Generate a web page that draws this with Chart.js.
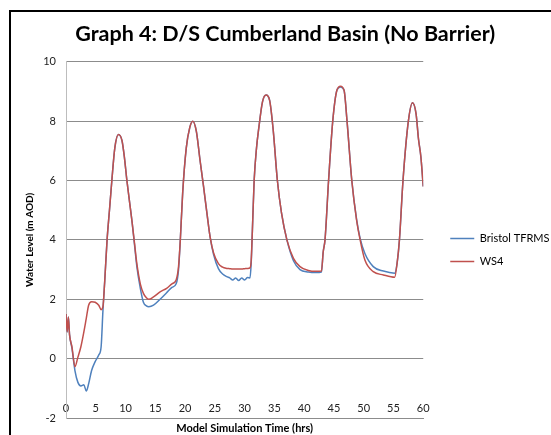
<!DOCTYPE html>
<html>
<head>
<meta charset="utf-8">
<script src="https://cdn.jsdelivr.net/npm/chart.js@4.4.1/dist/chart.umd.min.js"></script>
<style>
  html, body { margin: 0; padding: 0; background: #fff; }
  #wrap { width: 551px; height: 435px; }
</style>
</head>
<body>
<div id="wrap"><canvas id="graph4" width="551" height="435"></canvas></div>
<script>
// time (hrs) and water levels (m AOD)
const times = [0, 0.2, 0.4, 0.6, 1.0, 1.5, 2.0, 2.5, 3.0, 3.4, 3.8, 4.3, 4.9, 5.5, 5.9, 6.2, 6.5, 6.9, 7.3, 7.7,
  8.2, 8.8, 9.4, 9.8, 10.2, 10.6, 11.1, 11.5, 11.9, 12.5, 13.0, 13.5, 13.9, 14.7, 15.8, 16.9, 17.8, 18.5, 18.9, 19.2,
  19.6, 20.2, 20.8, 21.3, 21.9, 22.5, 23.1, 23.7, 24.2, 24.8, 25.6, 26.3, 27.0, 27.5, 28.0, 28.5, 29.0, 29.5, 30.0, 30.5,
  30.9, 31.1, 31.3, 31.6, 32.0, 32.4, 33.0, 33.6, 34.2, 34.8, 35.5, 36.2, 37.1, 38.2, 39.3, 40.7, 42.0, 42.9, 43.2, 43.5,
  44.1, 44.8, 45.5, 46.1, 46.7, 47.2, 48.0, 48.8, 49.4, 50.2, 51.6, 53.3, 55.2, 55.6, 56.0, 56.6, 57.5, 58.2, 58.8, 59.2,
  59.6, 60.0];

const bristolTFRMS = [1.5, 0.9, 1.4, 0.8, 0.35, -0.4, -0.8, -0.92, -0.88, -1.09, -0.85, -0.4, -0.1, 0.12, 0.4, 1.6, 2.6, 4.0, 5.0, 6.0,
  7.1, 7.55, 7.35, 6.8, 6.05, 5.4, 4.6, 3.85, 3.1, 2.35, 1.9, 1.78, 1.75, 1.8, 2.0, 2.22, 2.4, 2.52, 3.0, 4.0,
  5.6, 7.1, 7.8, 8.0, 7.65, 6.7, 5.8, 4.85, 4.1, 3.5, 3.03, 2.85, 2.76, 2.72, 2.65, 2.72, 2.63, 2.72, 2.65, 2.73,
  2.72, 3.2, 4.3, 6.0, 7.1, 7.8, 8.65, 8.88, 8.7, 7.7, 6.0, 4.9, 4.0, 3.3, 3.0, 2.92, 2.9, 2.92, 3.6, 4.0,
  6.0, 8.0, 9.04, 9.15, 9.04, 8.0, 6.0, 4.7, 4.05, 3.54, 3.1, 2.95, 2.88, 3.2, 4.0, 6.0, 8.0, 8.62, 8.24, 7.4,
  6.8, 5.8];

const ws4 = [1.5, 0.9, 1.4, 0.8, 0.4, -0.27, 0.05, 0.4, 0.9, 1.35, 1.8, 1.92, 1.9, 1.8, 1.65, 1.75, 2.6, 4.0, 5.0, 6.0,
  7.1, 7.55, 7.35, 6.8, 6.05, 5.4, 4.6, 3.9, 3.2, 2.5, 2.2, 2.05, 2.0, 2.08, 2.25, 2.37, 2.52, 2.65, 3.1, 4.0,
  5.6, 7.1, 7.8, 8.0, 7.65, 6.7, 5.8, 4.85, 4.1, 3.55, 3.2, 3.08, 3.04, 3.03, 3.02, 3.02, 3.02, 3.02, 3.03, 3.04,
  3.06, 3.3, 4.3, 6.0, 7.1, 7.8, 8.65, 8.88, 8.7, 7.7, 6.0, 4.9, 4.0, 3.38, 3.1, 2.97, 2.94, 2.95, 3.6, 4.0,
  6.0, 8.0, 9.04, 9.18, 9.04, 8.0, 6.0, 4.67, 4.0, 3.32, 2.93, 2.82, 2.74, 3.2, 4.0, 6.0, 8.0, 8.62, 8.24, 7.4,
  6.8, 5.8];

const toPoints = vals => times.map((t, i) => ({ x: t, y: vals[i] }));

// black frame of the original worksheet, top and left edges
const frame = {
  id: 'frame',
  afterLayout(chart) {
    // the original title sits a bit right of the canvas centre
    chart.titleBlock.left += 11;
  },
  afterDraw(chart) {
    const c = chart.ctx;
    c.save();
    c.fillStyle = '#000';
    c.fillRect(9, 10, 2, chart.height - 10);
    c.fillRect(9, 10, chart.width - 9, 2);
    c.restore();
  }
};

const font = 'Lato';
const ctx = document.getElementById('graph4');
const graph = new Chart(ctx, {
  type: 'line',
  data: {
    datasets: [{
      label: 'Bristol TFRMS',
      data: toPoints(bristolTFRMS),
      borderColor: '#4f81bd',
      backgroundColor: '#4f81bd',
      borderWidth: 1.5,
      pointRadius: 0,
      cubicInterpolationMode: 'monotone',
      order: 1,
    }, {
      label: 'WS4',
      data: toPoints(ws4),
      borderColor: '#c0504d',
      backgroundColor: '#c0504d',
      borderWidth: 1.5,
      pointRadius: 0,
      cubicInterpolationMode: 'monotone',
      order: 0,
    }],
  },
  options: {
    responsive: false,
    animation: false,
    // legend text runs off the right edge like in the original
    layout: { padding: { left: 0, right: -8.5, top: 0, bottom: 0 } },
    scales: {
      x: {
        type: 'linear',
        min: 0,
        max: 60,
        grid: { display: false, drawTicks: false },
        border: { display: true, color: '#8c8c8c' },
        // mirror keeps the labels from being clipped to the axis box, they sit just above the bottom line
        ticks: { stepSize: 5, mirror: true, padding: 3, color: '#222', font: { family: font, size: 11 } },
        title: { display: true, text: 'Model Simulation Time (hrs)', color: '#000', padding: 0,
                 font: { family: font, size: 11, weight: 'bold' } },
        afterFit(s) { s.height = 17; },
      },
      y: {
        min: -2,
        max: 10,
        grid: { color: '#8c8c8c', drawTicks: false },
        border: { display: true, color: '#bdbdbd' },
        ticks: { stepSize: 2, padding: 10, color: '#222', font: { family: font, size: 11 } },
        title: { display: true, text: 'Water Level (m AOD)', color: '#000', padding: { top: 24, bottom: 0 },
                 font: { family: font, size: 10, weight: 'bold' } },
        afterFit(s) { s.width = 66; },
      },
      gap: {
        position: 'right',
        display: true,
        grid: { display: false },
        border: { display: false },
        ticks: { display: false },
        afterFit(s) { s.width = 15; },
      },
    },
    plugins: {
      title: {
        display: true,
        text: 'Graph 4: D/S Cumberland Basin (No Barrier)',
        color: '#000',
        font: { family: font, size: 21.5, weight: 'bold' },
        padding: { top: 21, bottom: 15 },
      },
      legend: {
        position: 'right',
        fullSize: false,
        maxWidth: 140,
        title: { display: true, text: ' ', padding: 3, font: { family: font, size: 12 } },
        labels: {
          usePointStyle: true,
          pointStyle: 'line',
          pointStyleWidth: 24,
          padding: 12,
          color: '#000',
          font: { family: font, size: 11 },
          sort: (a, b) => a.datasetIndex - b.datasetIndex,
        },
      },
      tooltip: { enabled: false },
    },
  },
  plugins: [frame],
});
</script>
</body>
</html>
